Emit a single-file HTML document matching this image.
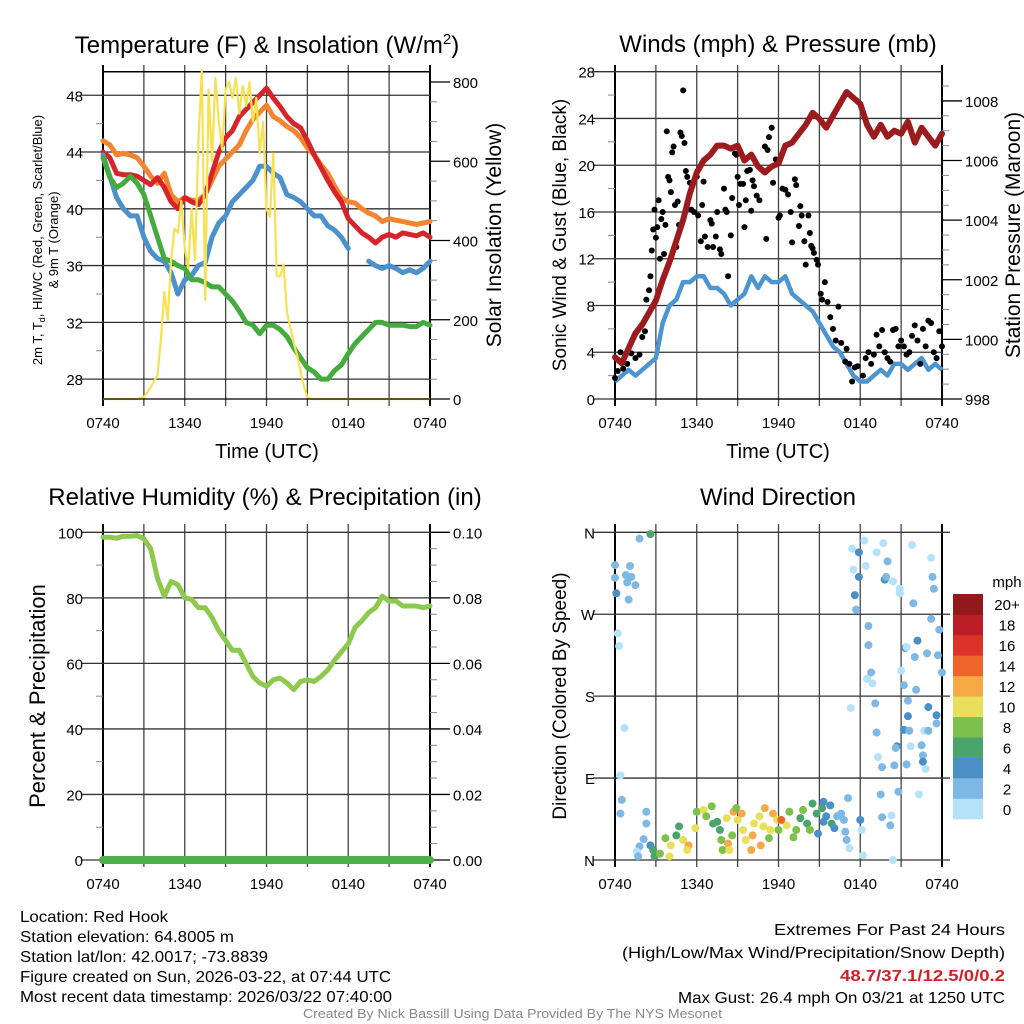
<!DOCTYPE html>
<html><head><meta charset="utf-8"><style>
html,body{margin:0;padding:0;background:#fff;}
svg{display:block;font-family:"Liberation Sans",sans-serif;}
</style></head><body>
<svg id="root" width="1024" height="1024" viewBox="0 0 1024 1024" xmlns="http://www.w3.org/2000/svg">
<rect width="1024" height="1024" fill="#fff"/>
<g id="p1"></g>
<g id="p2"></g>
<g id="p3"></g>
<g id="p4"></g>
<g font-size="16" fill="#000">
<text x="20" y="922" textLength="148" lengthAdjust="spacingAndGlyphs">Location: Red Hook</text>
<text x="20" y="942" textLength="214" lengthAdjust="spacingAndGlyphs">Station elevation: 64.8005 m</text>
<text x="20" y="962" textLength="248" lengthAdjust="spacingAndGlyphs">Station lat/lon: 42.0017; -73.8839</text>
<text x="20" y="982" textLength="371" lengthAdjust="spacingAndGlyphs">Figure created on Sun, 2026-03-22, at 07:44 UTC</text>
<text x="20" y="1002" textLength="372" lengthAdjust="spacingAndGlyphs">Most recent data timestamp: 2026/03/22 07:40:00</text>
</g>
<g font-size="16">
<text x="774" y="935" textLength="231" lengthAdjust="spacingAndGlyphs">Extremes For Past 24 Hours</text>
<text x="622" y="958" textLength="383" lengthAdjust="spacingAndGlyphs">(High/Low/Max Wind/Precipitation/Snow Depth)</text>
<text x="840" y="981" textLength="165" lengthAdjust="spacingAndGlyphs" fill="#d0202a" font-weight="bold">48.7/37.1/12.5/0/0.2</text>
<text x="678" y="1003" textLength="327" lengthAdjust="spacingAndGlyphs">Max Gust: 26.4 mph On 03/21 at 1250 UTC</text>
</g>
<text x="303" y="1018" textLength="419" lengthAdjust="spacingAndGlyphs" font-size="13" fill="#888">Created By Nick Bassill Using Data Provided By The NYS Mesonet</text>
</svg>
<script>
// ---------- DATA ----------
const timeLabels = ["0740","1340","1940","0140","0740"];
const halfHours = [0,0.5,1,1.5,2,2.5,3,3.5,4,4.5,5,5.5,6,6.5,7,7.5,8,8.5,9,9.5,10,10.5,11,11.5,12,12.5,13,13.5,14,14.5,15,15.5,16,16.5,17,17.5,18,18.5,19,19.5,20,20.5,21,21.5,22,22.5,23,23.5,24];
const temp9m = [44.8,44.5,43.8,43.9,43.8,43.6,43.0,42.3,41.8,42.5,41.0,40.5,40.8,40.6,40.6,41.0,42.0,43.0,43.5,44.0,44.5,45.5,46.3,46.8,47.3,46.5,46.2,45.8,45.5,45.0,44.3,43.8,43.1,42.5,41.6,40.8,40.5,40.4,40.0,39.7,39.5,39.1,39.3,39.2,39.1,39.0,38.9,39.0,39.1];
const temp2m = [44.0,43.6,42.5,42.4,42.4,42.3,42.0,41.7,42.2,41.5,40.5,40.0,40.8,40.5,40.3,41.0,42.5,44.0,45.0,45.5,46.5,47.0,47.5,48.0,48.5,47.8,47.2,46.5,46.0,45.7,44.8,43.8,42.9,42.0,41.2,40.5,39.3,38.8,38.3,38.0,37.6,38.0,38.2,38.0,38.3,38.2,38.1,38.3,38.0];
const windChill = [43.8,42.3,40.8,40.0,39.5,39.5,38.0,37.0,36.5,36.3,35.5,34.0,35.0,35.3,36.0,36.2,38.0,39.0,39.5,40.5,41.0,41.5,42.0,43.0,43.0,42.5,42.2,41.0,40.8,40.5,40.0,39.5,39.5,38.8,38.5,38.0,37.2,null,null,36.3,36.0,35.8,36.0,35.8,35.5,35.7,35.5,35.8,36.3];
const dewPoint = [43.6,42.2,41.5,41.8,42.3,41.8,41.0,39.5,38.0,36.5,36.3,36.0,35.8,35.0,35.0,34.8,34.5,34.5,34.0,33.5,32.8,32.0,31.8,31.2,31.8,31.8,31.5,31.0,30.2,29.5,28.8,28.5,28.0,28.0,28.6,29.0,29.8,30.5,31.0,31.5,32.0,32.0,31.8,31.8,31.8,31.7,31.7,32.0,31.8];
const solarHours = [0,2.5,3,3.5,4,4.25,4.5,4.75,5,5.25,5.5,5.75,6,6.25,6.5,6.75,7,7.25,7.5,7.75,8,8.25,8.5,8.75,9,9.25,9.5,9.75,10,10.25,10.5,10.75,11,11.25,11.5,11.75,12,12.25,12.5,12.75,13,13.25,13.5,13.75,14,14.25,14.5,14.75,15,15.25,24];
const solarValues = [0,0,5,30,60,150,270,200,350,430,420,500,380,330,480,350,650,830,250,780,600,810,700,630,780,800,760,810,720,790,740,800,700,760,620,700,480,460,620,310,310,340,220,180,140,110,70,30,5,0,0];
const pressure = [999.4,999.2,999.7,1000.2,1000.5,1000.9,1001.3,1002.0,1002.6,1003.3,1004.0,1004.9,1005.6,1006.0,1006.2,1006.5,1006.5,1006.4,1006.5,1006.0,1006.2,1005.8,1005.6,1005.8,1005.9,1006.5,1006.6,1006.9,1007.2,1007.6,1007.4,1007.1,1007.5,1007.9,1008.3,1008.1,1007.9,1007.2,1006.8,1007.2,1006.8,1007.0,1006.9,1007.3,1006.6,1007.1,1006.8,1006.5,1006.9];
const windSpeed = [1.5,2.0,2.5,2.0,2.5,3.0,3.5,6.5,8.0,8.5,10.0,10.0,10.5,10.5,9.5,9.5,9.0,8.0,8.5,9.0,10.5,9.5,10.5,10.0,10.0,10.5,9.0,8.5,8.0,7.5,6.5,5.5,4.5,4.0,3.0,2.0,1.5,1.5,2.0,2.5,2.0,3.0,3.0,2.5,3.0,3.5,2.5,3.0,2.5];
const gustHours = [0.0,0.2,0.4,0.6,0.9,1.2,1.5,1.8,2.0,2.2,2.3,2.5,2.6,2.7,2.8,2.9,3.0,3.1,3.2,3.3,3.4,3.5,3.6,3.7,3.8,3.9,4.0,4.1,4.2,4.3,4.4,4.5,4.6,4.7,4.8,4.9,5.0,5.1,5.2,5.3,5.5,5.6,5.8,6.0,6.1,6.3,6.4,6.5,6.6,6.8,7.0,7.1,7.2,7.4,7.5,7.7,7.8,8.0,8.1,8.2,8.3,8.5,8.6,8.8,8.9,9.0,9.1,9.2,9.4,9.5,9.6,9.7,9.9,10.0,10.1,10.2,10.4,10.6,10.8,11.0,11.1,11.2,11.3,11.5,11.6,11.8,12.0,12.1,12.3,12.5,12.7,12.9,13.0,13.2,13.3,13.5,13.6,13.7,13.9,14.0,14.2,14.3,14.4,14.5,14.6,14.8,14.9,15.1,15.2,15.4,15.6,15.8,16.0,16.2,16.4,16.6,16.9,17.0,17.2,17.4,17.6,17.8,18.2,18.4,18.6,18.8,19.0,19.2,19.4,19.6,19.8,20.0,20.2,20.4,20.6,20.8,21.0,21.2,21.4,21.6,21.8,22.0,22.2,22.4,22.6,22.8,23.0,23.2,23.4,23.6,23.8,24.0];
const gustValues = [1.8,2.4,4.0,2.6,3.0,3.9,3.5,3.8,5.3,5.8,8.5,9.3,10.5,12.7,14.5,16.2,13.8,14.7,17.0,12.0,15.4,16.0,12.4,14.9,22.9,19.0,18.7,17.7,21.1,21.6,16.6,13.0,16.9,14.9,22.8,22.5,26.4,21.9,19.5,19.0,18.5,16.2,16.0,19.0,15.7,13.5,16.6,18.6,13.9,13.0,15.3,15.0,13.0,13.9,16.0,12.8,12.4,18.0,16.2,16.0,10.5,14.0,17.2,21.0,20.9,19.0,16.6,18.4,18.4,14.7,17.0,19.5,19.6,16.1,18.7,18.2,17.4,17.0,19.6,21.6,13.7,21.3,22.4,23.2,18.5,20.5,15.5,15.7,18.0,17.9,17.5,16.0,13.4,18.8,18.3,14.8,16.5,15.7,13.5,11.5,15.7,14.2,13.1,12.9,12.5,11.9,11.5,9.0,8.5,10.0,8.3,7.0,6.0,5.0,7.9,4.8,3.2,4.3,3.0,1.5,2.7,2.8,2.0,3.5,4.0,3.0,3.8,5.5,4.5,5.9,4.0,3.5,3.2,5.9,6.0,4.5,5.0,4.5,3.8,4.0,5.4,6.3,5.0,3.0,6.0,4.5,6.7,6.5,4.0,3.5,5.8,4.5];
const relHumidity = [98.5,98.5,98.2,98.8,98.8,99.0,98.0,95.0,86.0,80.5,85.0,84.0,80.0,79.5,77.0,77.0,74.0,70.0,67.0,64.0,64.0,60.0,56.0,54.0,53.0,55.0,55.5,54.0,52.0,54.5,55.0,54.5,56.0,58.0,61.0,63.5,66.0,71.0,73.0,75.5,77.0,80.5,79.0,79.0,77.5,77.5,77.5,77.0,77.5];
const precip = [0,0,0,0,0,0,0,0,0,0,0,0,0,0,0,0,0,0,0,0,0,0,0,0,0,0,0,0,0,0,0,0,0,0,0,0,0,0,0,0,0,0,0,0,0,0,0,0,0];
const dirHours = [1.8,2.6,0,0,0.1,1.1,0.8,1.2,0.9,1.5,1.0,0.2,0.3,0.7,0.4,0.5,0.4,2.3,2.3,2.1,1.8,1.6,1.7,2.6,2.8,2.9,3.3,3.7,4.0,4.1,4.5,4.7,5.0,5.4,5.3,5.9,6.0,6.5,6.7,7.1,7.2,7.5,7.7,7.8,7.9,8.2,8.3,8.4,8.6,8.7,8.9,9.0,9.3,9.4,9.6,10.0,10.1,10.2,10.6,10.7,10.9,11.0,11.3,11.4,11.6,11.9,12.0,12.2,12.6,12.8,13.1,13.3,13.6,13.8,14.1,14.3,14.5,14.8,14.9,15.2,15.3,15.5,15.8,15.9,16.1,16.3,16.6,16.8,16.9,17.0,17.1,17.2,15.3,17.4,17.5,17.9,18.3,17.9,17.6,17.7,18.4,19.2,19.7,20.0,19.8,19.9,20.4,20.9,20.9,21.8,21.9,23.2,23.3,23.4,18.6,18.6,18.5,18.9,18.8,19.1,19.2,19.3,19.6,19.5,19.6,21.3,22.2,21.2,22.1,21.5,21.5,21.2,21.6,21.7,20.7,20.6,20.5,21.4,20.8,22.3,22.9,23.2,23.8,23.7,24.0,23.0,23.6,23.6,22.7,23.0,22.5,22.6,22.6,22.8,22.0,21.4,21.0,17.3,18.0,18.1,18.2,20.3,20.2,20.4];
const dirDegrees = [353,358,324,310,293,323,313,311,305,302,286,249,235,145,93,66,51,53,40,23,15,9,4,16,11,4,7,24,4,16,27,37,22,16,11,35,53,55,48,59,40,42,33,22,11,46,18,11,27,53,57,44,51,33,22,11,27,40,48,16,37,57,24,33,51,44,33,44,38,53,25,33,46,55,40,33,62,51,29,57,64,48,60,40,35,48,51,44,31,22,68,13,42,342,319,338,351,311,291,275,323,338,348,328,308,311,306,298,293,346,282,332,311,298,257,236,199,194,206,172,140,113,102,72,47,233,241,192,187,175,158,143,142,125,125,123,104,105,75,72,227,265,253,225,206,168,159,150,142,142,126,115,108,100,223,234,208,167,44,33,5,49,38,0];
const dirSpeeds = [3,6.5,3,3,4,3,3,3,3,3,3,1,1,1,1,3,3,3,3,3,3,1,3,4,6,7,8,8,10,10,7,6,10,13,10,10,9,10,8,8,7,6,7,8,8,10,13,10,8,12,9,10,12,10,10,12,12,10,10,13,10,13,8,10,12,10,8,14,10,8,8,8,7,8,6,8,6,6,4,6,4,4,4,6,4,3,3,3,3,3,3,1,4,1,1,4,1,4,4,3,1,1,1,3,4,3,1,1,1,1,3,1,3,3,3,3,1,1,3,3,3,1,3,3,3,4,4,3,3,3,4,4,3,1,4,3,3,3,3,1,3,3,3,3,3,4,4,3,1,3,3,3,4,1,3,1,1,1,4,1,1,1,3,1];
const speedBinLabels = ["0","2","4","6","8","10","12","14","16","18","20+"];
const speedBinColors = ["#b4e2f8","#7db9e4","#4a8fc6","#4aa56c","#7bc14b","#e8e05a","#f6a945","#ef6529","#dc3328","#bc1d27","#931a1c"];

// ---------- HELPERS ----------
const NS = "http://www.w3.org/2000/svg";
function mk(parent, tag, attrs, text) {
  const e = document.createElementNS(NS, tag);
  for (const k in attrs) e.setAttribute(k, attrs[k]);
  if (text !== undefined) e.textContent = text;
  parent.appendChild(e);
  return e;
}
function linScale(d0, d1, r0, r1) { return v => r0 + (v - d0) * (r1 - r0) / (d1 - d0); }

function drawFrame(g, cfg) {
  const {x0, x1, yTop, yBot} = cfg;
  const xs = linScale(0, 24, x0, x1);
  for (let h = 0; h <= 24; h += 3) {
    const l = mk(g, "line", {x1: xs(h), x2: xs(h), y1: cfg.gridTop, y2: yBot + 7, stroke: (h === 0 || h === 24) ? "#000" : "#444", "stroke-width": (h === 0 || h === 24) ? 2 : 1.3});
    
    
  }
  timeLabels.forEach((lab, i) => {
    const t = mk(g, "text", {x: xs(i * 6), y: yBot + 29, "font-size": 15, "text-anchor": "middle"}, lab);
    
    
  });
  return xs;
}
function drawLeftAxis(g, cfg, ys, ticks, labels, minors) {
  minors.forEach(v => {
    const l = mk(g, "line", {x1: cfg.x0 - 7, x2: cfg.x0, y1: ys(v), y2: ys(v), stroke: "#888", "stroke-width": 1});
    
    
  });
  ticks.forEach((v, i) => {
    const l = mk(g, "line", {x1: cfg.x0 - 22, x2: cfg.gridRight, y1: ys(v), y2: ys(v), stroke: "#333", "stroke-width": 1.3});
    
    
    const t = mk(g, "text", {x: cfg.x0 - 20, y: ys(v) + 6, "font-size": 15, "text-anchor": "end"}, labels[i]);
    
    
  });
}
function drawRightAxis(g, cfg, ys, ticks, labels, minors) {
  minors.forEach(v => {
    const l = mk(g, "line", {x1: cfg.x1, x2: cfg.x1 + 7, y1: ys(v), y2: ys(v), stroke: "#888", "stroke-width": 1});
    
    
  });
  ticks.forEach((v, i) => {
    const l = mk(g, "line", {x1: cfg.x1, x2: cfg.x1 + 20, y1: ys(v), y2: ys(v), stroke: "#000", "stroke-width": 1.3});
    
    
    const t = mk(g, "text", {x: cfg.x1 + 23, y: ys(v) + 6, "font-size": 15}, labels[i]);
    
    
  });
}
function pathFrom(xsArr, vals, xs, ys) {
  let d = "", pen = false;
  vals.forEach((v, i) => {
    if (v === null) { pen = false; return; }
    d += (pen ? "L" : "M") + xs(xsArr[i]).toFixed(1) + "," + ys(v).toFixed(1);
    pen = true;
  });
  return d;
}
function vtext(g, x, y, size, txt, name) {
  const t = mk(g, "text", {x: 0, y: 0, "font-size": size, "text-anchor": "middle", transform: `translate(${x},${y}) rotate(-90)`}, txt);
  
  
  return t;
}
function title(g, x, y, size, txt, name) {
  const t = mk(g, "text", {x: x, y: y, "font-size": size, "text-anchor": "middle"}, txt);
  
  
  return t;
}

// ---------- PANEL 1 ----------
(function () {
  const g = document.getElementById("p1");
  const cfg = {x0: 103, x1: 430, yTop: 71.7, yBot: 399, gridTop: 65, gridRight: 430};
  const xs = drawFrame(g, cfg);
  const ys = linScale(26.6, 49.66, 399, 71.7);
  const yr = linScale(0, 826, 399, 71.7);
  drawLeftAxis(g, cfg, ys, [28,32,36,40,44,48], ["28","32","36","40","44","48"], [30,34,38,42,46]);
  drawRightAxis(g, cfg, yr, [0,200,400,600,800], ["0","200","400","600","800"], [50,100,150,250,300,350,450,500,550,650,700,750]);
  const top = mk(g, "line", {x1: 103, x2: 430, y1: 71.7, y2: 71.7, stroke: "#000", "stroke-width": 1.5});
  
  
  const series = [[temp9m, "#f4842f", "line-9m-temp"], [temp2m, "#d7242a", "line-2m-temp"], [windChill, "#4b91cd", "line-heat-index-wind-chill"], [dewPoint, "#45ab3f", "line-dewpoint"]];
  series.forEach(s => {
    const p = mk(g, "path", {d: pathFrom(halfHours, s[0], xs, ys), fill: "none", stroke: s[1], "stroke-width": 5, "stroke-linejoin": "round", "stroke-linecap": "round"});
    
    
  });
  const sp = mk(g, "path", {d: pathFrom(solarHours, solarValues, xs, yr), fill: "none", stroke: "#f8e151", "stroke-width": 2.2, "stroke-linejoin": "round"});
  
  
  const bl = mk(g, "line", {x1: 103, x2: 430, y1: 399, y2: 399, stroke: "#000", "stroke-width": 1.3});
  
  
  const tt = mk(g, "text", {x: 267, y: 53, "font-size": 24, "text-anchor": "middle"});
  
  
  tt.innerHTML = 'Temperature (F) &amp; Insolation (W/m<tspan dy="-9" font-size="15">2</tspan><tspan dy="9">)</tspan>';
  title(g, 267, 458, 20, "Time (UTC)", "x-axis-title");
  const lt = mk(g, "text", {x: 0, y: 0, "font-size": 13, "text-anchor": "middle", transform: "translate(42,240) rotate(-90)"});
  
  
  lt.innerHTML = '2m T, T<tspan dy="3" font-size="9">d</tspan><tspan dy="-3">, HI/WC (Red, Green, Scarlet/Blue)</tspan>';
  vtext(g, 58, 240, 13, "& 9m T (Orange)", "y-axis-title-9m");
  vtext(g, 501, 235, 21, "Solar Insolation (Yellow)", "y-axis-title-insolation");
})();

// ---------- PANEL 2 ----------
(function () {
  const g = document.getElementById("p2");
  const cfg = {x0: 615, x1: 942, yTop: 71.7, yBot: 399, gridTop: 65, gridRight: 942};
  const xs = drawFrame(g, cfg);
  const ys = linScale(0, 28, 399, 71.7);
  const yp = linScale(998, 1008.98, 399, 71.7);
  drawLeftAxis(g, cfg, ys, [0,4,8,12,16,20,24,28], ["0","4","8","12","16","20","24","28"], [2,6,10,14,18,22,26]);
  const pm = []; for (let v = 998.5; v < 1009; v += 0.5) if (v % 2 !== 0) pm.push(v);
  drawRightAxis(g, cfg, yp, [998,1000,1002,1004,1006,1008], ["998","1000","1002","1004","1006","1008"], pm);
  const wl = mk(g, "path", {d: pathFrom(halfHours, windSpeed, xs, ys), fill: "none", stroke: "#4c95d0", "stroke-width": 4.5, "stroke-linejoin": "round"});
  
  
  gustHours.forEach((h, i) => {
    const c = mk(g, "circle", {cx: xs(h), cy: ys(gustValues[i]), r: 3, fill: "#000"});
    
    
  });
  const pl = mk(g, "path", {d: pathFrom(halfHours, pressure, xs, yp), fill: "none", stroke: "#9b1b1e", "stroke-width": 6, "stroke-linejoin": "round", "stroke-linecap": "round"});
  
  
  const bl = mk(g, "line", {x1: 615, x2: 942, y1: 399, y2: 399, stroke: "#000", "stroke-width": 1.3});
  
  
  title(g, 778, 52, 24, "Winds (mph) & Pressure (mb)", "winds-title");
  title(g, 778, 458, 20, "Time (UTC)", "x-axis-title");
  vtext(g, 566, 235, 19, "Sonic Wind & Gust (Blue, Black)", "y-axis-title-wind");
  vtext(g, 1020, 235, 21, "Station Pressure (Maroon)", "y-axis-title-pressure");
})();

// ---------- PANEL 3 ----------
(function () {
  const g = document.getElementById("p3");
  const cfg = {x0: 103, x1: 430, yTop: 524, yBot: 860, gridTop: 524, gridRight: 430};
  const xs = drawFrame(g, cfg);
  const ys = linScale(0, 100, 860, 532.3);
  const yr = linScale(0, 0.1, 860, 532.3);
  drawLeftAxis(g, cfg, ys, [0,20,40,60,80,100], ["0","20","40","60","80","100"], [10,30,50,70,90]);
  const rm = []; for (let k = 1; k < 20; k++) if (k % 4 !== 0) rm.push(k * 0.005);
  drawRightAxis(g, cfg, yr, [0,0.02,0.04,0.06,0.08,0.1], ["0.00","0.02","0.04","0.06","0.08","0.10"], rm);
  const rh = mk(g, "path", {d: pathFrom(halfHours, relHumidity, xs, ys), fill: "none", stroke: "#8dc94c", "stroke-width": 5, "stroke-linejoin": "round", "stroke-linecap": "round"});
  
  
  const pr = mk(g, "path", {d: pathFrom(halfHours, precip, xs, yr), fill: "none", stroke: "#4bb04a", "stroke-width": 8, "stroke-linecap": "round"});
  
  
  title(g, 265, 505, 24, "Relative Humidity (%) & Precipitation (in)", "humidity-title");
  vtext(g, 45, 696, 22, "Percent & Precipitation", "y-axis-title-percent");
})();

// ---------- PANEL 4 ----------
(function () {
  const g = document.getElementById("p4");
  const cfg = {x0: 615, x1: 942, yTop: 524, yBot: 860, gridTop: 524, gridRight: 950};
  const xs = drawFrame(g, cfg);
  const ys = linScale(0, 360, 860, 532.3);
  drawLeftAxis(g, cfg, ys, [0,90,180,270,360], ["N","E","S","W","N"], []);
  function binOf(s) { return Math.min(10, Math.floor(s / 2)); }
  dirHours.forEach((h, i) => {
    const c = mk(g, "circle", {cx: xs(h), cy: ys(dirDegrees[i]), r: 4, fill: speedBinColors[binOf(dirSpeeds[i])]});
    
    
  });
  const bh = (819 - 594) / speedBinLabels.length;
  speedBinLabels.forEach((lab, i) => {
    const y = 819 - (i + 1) * bh;
    const r = mk(g, "rect", {x: 953, y: y, width: 30, height: bh + 0.3, fill: speedBinColors[i]});
    
    
    const t = mk(g, "text", {x: 1007, y: y + bh / 2 + 6, "font-size": 15, "text-anchor": "middle"}, lab);
    
    
  });
  const u = mk(g, "text", {x: 1007, y: 587, "font-size": 15, "text-anchor": "middle"}, "mph");
  
  
  title(g, 778, 505, 24, "Wind Direction", "wind-direction-title");
  vtext(g, 566, 696, 19, "Direction (Colored By Speed)", "y-axis-title-direction");
})();
</script>
</body></html>
